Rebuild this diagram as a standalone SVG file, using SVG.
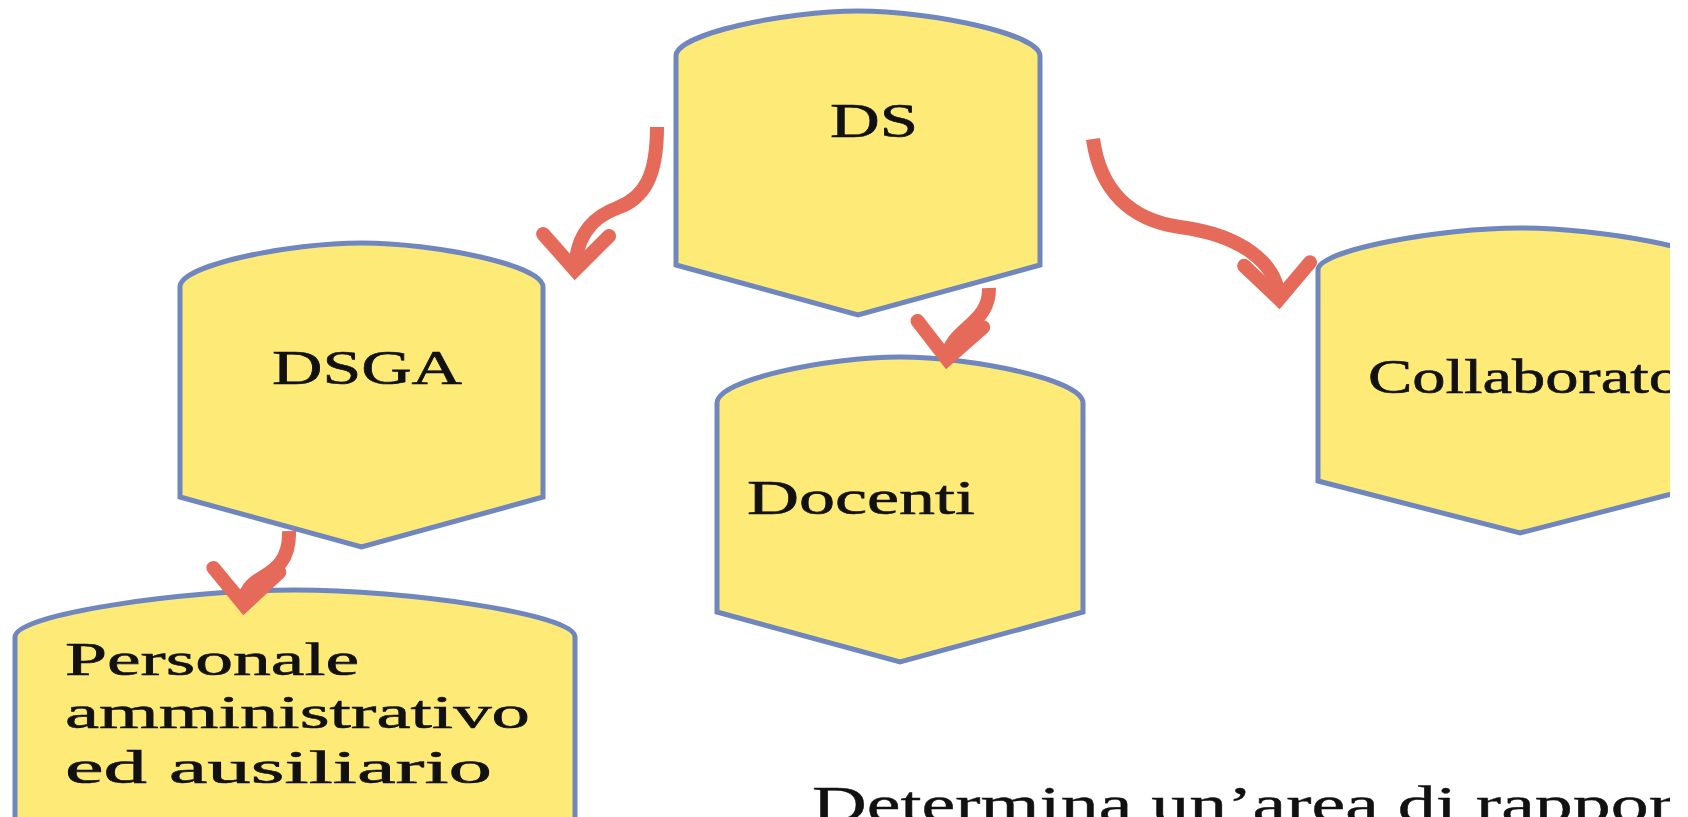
<svg xmlns="http://www.w3.org/2000/svg" width="1688" height="817" viewBox="0 0 1688 817">
<style>
.node{fill:#FEEB77;stroke:#6F86BF;stroke-width:5;stroke-linejoin:miter}
.lbl{font-family:"Liberation Serif","Times New Roman",serif;fill:#111;stroke:#111;stroke-width:0.6;font-size:48px}
.lbl2{font-family:"Liberation Serif","Times New Roman",serif;fill:#111;stroke:#111;stroke-width:0.6;font-size:47px}
.cap{font-family:"Liberation Serif","Times New Roman",serif;fill:#111;stroke:#111;stroke-width:0.4;font-size:51px}
.conn{fill:none;stroke:#E66A59;stroke-width:14;stroke-linecap:butt;marker-end:url(#ah)}
</style>
<defs>
<clipPath id="crop"><rect x="0" y="0" width="1670" height="817"/></clipPath>
<marker id="ah" markerUnits="userSpaceOnUse" viewBox="-60 -60 120 120" markerWidth="120" markerHeight="120" refX="0" refY="0" orient="auto" overflow="visible">
<path d="M -35 -33 L 0 0 L -35 33" fill="none" stroke="#E66A59" stroke-width="14" stroke-linecap="round" stroke-linejoin="miter"/>
</marker>
</defs>
<rect x="0" y="0" width="1688" height="817" fill="#FFFFFF"/>
<g clip-path="url(#crop)">
<g id="node-ds">
<path class="node" d="M 676 56 C 676 34, 785 11, 858 11 C 931 11, 1040 34, 1040 56 L 1040 265 L 858 315 L 676 265 Z"/>
<text class="lbl" x="830" y="137" textLength="88" lengthAdjust="spacingAndGlyphs">DS</text>
</g>
<g id="node-dsga">
<path class="node" d="M 180 287 C 180 265, 289 243, 361.5 243 C 434 243, 543 265, 543 287 L 543 497 L 361.5 547 L 180 497 Z"/>
<text class="lbl" x="272" y="384" textLength="190" lengthAdjust="spacingAndGlyphs">DSGA</text>
</g>
<g id="node-docenti">
<path class="node" d="M 717 403 C 717 380, 827 357, 900 357 C 973 357, 1083 380, 1083 403 L 1083 612 L 900 662 L 717 612 Z"/>
<text class="lbl" x="747" y="514" textLength="228" lengthAdjust="spacingAndGlyphs">Docenti</text>
</g>
<g id="node-collaboratori">
<path class="node" d="M 1318 270 C 1318 250, 1440 228, 1520 228 C 1600 228, 1722 250, 1722 270 L 1722 481 L 1520 533 L 1318 481 Z"/>
<text class="lbl" x="1368" y="393" textLength="314" lengthAdjust="spacingAndGlyphs">Collaborato</text>
</g>
<g id="node-personale">
<path class="node" d="M 15 637 C 15 614, 185 590, 295 590 C 405 590, 575 614, 575 637 L 575 840 L 15 840 Z"/>
<text class="lbl2" x="65" y="675" textLength="294" lengthAdjust="spacingAndGlyphs">Personale</text>
<text class="lbl2" x="65" y="728" textLength="465" lengthAdjust="spacingAndGlyphs">amministrativo</text>
<text class="lbl2" x="65" y="783" textLength="427" lengthAdjust="spacingAndGlyphs">ed ausiliario</text>
</g>
<g id="connectors">
<path class="conn" d="M 657 127 C 657 175, 645 198, 617 208 C 590 218, 576 238, 575 270"/>
<path class="conn" d="M 989 288 C 990 325, 950 328, 947 359"/>
<path class="conn" d="M 1093 139 C 1100 190, 1130 220, 1180 227 C 1240 235, 1277 262, 1279 299"/>
<path class="conn" d="M 289 531 C 290 560, 275 570, 263 577 C 251 584, 245 590, 244 605"/>
</g>
<text id="caption" class="cap" x="812" y="821" textLength="862" lengthAdjust="spacingAndGlyphs">Determina un’area di rappor</text>
</g>
</svg>
